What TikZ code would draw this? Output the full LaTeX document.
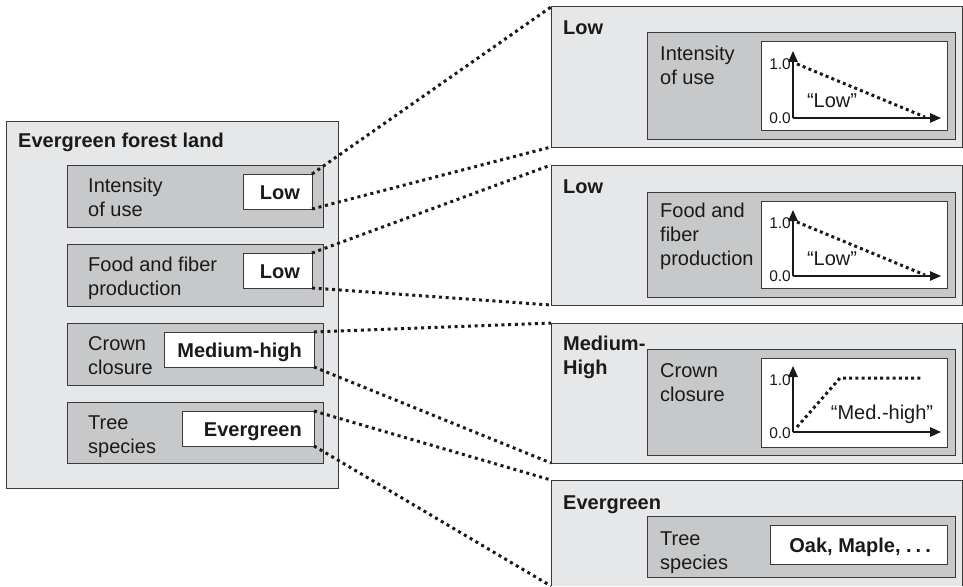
\documentclass[tikz,border=0pt]{standalone}
\usepackage{fontspec}
\setmainfont{Liberation Sans}
\usetikzlibrary{arrows.meta,calc}

\definecolor{outerfill}{HTML}{E6E7E8}
\definecolor{innerfill}{HTML}{C7C8CA}
\definecolor{edgecol}{HTML}{3A3A3A}
\definecolor{ink}{HTML}{1A1A1A}

\newcommand\stackedlbl[1]{\begin{tabular}[t]{@{}l@{}}#1\end{tabular}}

\tikzset{
  box/.style={draw=edgecol, line width=1pt, inner sep=0pt, outer sep=0pt, rectangle},
  outerbox/.style={box, fill=outerfill},
  innerbox/.style={box, fill=innerfill},
  valbox/.style={box, fill=white},
  lbl/.style={inner sep=0pt, anchor=base west, font=\fontsize{20}{24}\selectfont, text=ink},
  boldlbl/.style={lbl, font=\fontsize{20}{24}\selectfont\bfseries},
  conn/.style={draw=ink, line width=3pt, dash pattern=on 3pt off 3.7pt},
  axisline/.style={draw=ink, line width=1.3pt, -{Triangle[length=11pt,width=9.5pt]}},
  curveline/.style={draw=ink, line width=3pt, dash pattern=on 3pt off 3.2pt},
  ticklbl/.style={inner sep=0pt, anchor=base east, font=\fontsize{15.5}{17}\selectfont, text=ink},
}

\begin{document}
\begin{tikzpicture}[x=1pt,y=-1pt]
\useasboundingbox (0,0) rectangle (963,586);

% ---------- left side ----------
\node[outerbox, minimum width=332pt, minimum height=367pt] (land) at (172,304.5) {};
\node[boldlbl] (landt) at ($(land.north west)+(12,26)$) {Evergreen forest land};

\node[innerbox, minimum width=256pt, minimum height=62pt] (b1) at (195,196) {};
\node[innerbox, minimum width=256pt, minimum height=62pt] (b2) at (195,275) {};
\node[innerbox, minimum width=256pt, minimum height=62pt] (b3) at (195,354) {};
\node[innerbox, minimum width=256pt, minimum height=61pt] (b4) at (195,432.5) {};

\node[lbl] (b1t) at ($(b1.north west)+(21,27)$) {\stackedlbl{Intensity\\of use}};
\node[lbl] (b2t) at ($(b2.north west)+(21,27)$) {\stackedlbl{Food and fiber\\production}};
\node[lbl] (b3t) at ($(b3.north west)+(21,27)$) {\stackedlbl{Crown\\closure}};
\node[lbl] (b4t) at ($(b4.north west)+(21,27)$) {\stackedlbl{Tree\\species}};

\node[valbox, minimum width=69pt, minimum height=35pt] (w1) at (277.5,191.5) {};
\node[valbox, minimum width=69pt, minimum height=35pt] (w2) at (277.5,270.5) {};
\node[valbox, minimum width=150pt, minimum height=35pt] (w3) at (239,349.5) {};
\node[valbox, minimum width=132pt, minimum height=35pt] (w4) at (248,428.5) {};

\node[boldlbl, anchor=base east] (w1t) at ($(w1.east)+(-12,7.5)$) {Low};
\node[boldlbl, anchor=base east] (w2t) at ($(w2.east)+(-12,7.5)$) {Low};
\node[boldlbl, anchor=base east] (w3t) at ($(w3.east)+(-12,7.5)$) {Medium-high};
\node[boldlbl, anchor=base east] (w4t) at ($(w4.east)+(-12,7.5)$) {Evergreen};

% ---------- right side ----------
\node[outerbox, minimum width=411pt, minimum height=140pt] (r1) at (756.5,77) {};
\node[outerbox, minimum width=411pt, minimum height=140pt] (r2) at (756.5,235) {};
\node[outerbox, minimum width=411pt, minimum height=140pt] (r3) at (756.5,393) {};
\node[inner sep=0pt, outer sep=0pt, fill=outerfill, minimum width=411pt, minimum height=106pt] (r4) at (756.5,533) {};
\draw[draw=edgecol, line width=1pt] (r4.south west) -- (r4.north west) -- (r4.north east) -- (r4.south east);

\node[boldlbl] (r1t) at ($(r1.north west)+(12,28)$) {Low};
\node[boldlbl] (r2t) at ($(r2.north west)+(12,28)$) {Low};
\node[boldlbl] (r3t) at ($(r3.north west)+(12,27)$) {\stackedlbl{Medium-\\High}};
\node[boldlbl] (r4t) at ($(r4.north west)+(12,29)$) {Evergreen};

\node[innerbox, minimum width=308pt, minimum height=106pt] (g1) at (801,86) {};
\node[innerbox, minimum width=308pt, minimum height=105pt] (g2) at (801,244.5) {};
\node[innerbox, minimum width=308pt, minimum height=106pt] (g3) at (801,402) {};
\node[innerbox, minimum width=308pt, minimum height=61pt] (g4) at (801,546.5) {};

\node[lbl] (g1t) at ($(g1.north west)+(13,27)$) {\stackedlbl{Intensity\\of use}};
\node[lbl] (g2t) at ($(g2.north west)+(13,25)$) {\stackedlbl{Food and\\fiber\\production}};
\node[lbl] (g3t) at ($(g3.north west)+(13,28)$) {\stackedlbl{Crown\\closure}};
\node[lbl] (g4t) at ($(g4.north west)+(13,29)$) {\stackedlbl{Tree\\species}};

\node[valbox, minimum width=186pt, minimum height=88pt] (p1) at (854,86) {};
\node[valbox, minimum width=186pt, minimum height=87pt] (p2) at (854,244.5) {};
\node[valbox, minimum width=186pt, minimum height=89pt] (p3) at (854,402.5) {};
\node[valbox, minimum width=177pt, minimum height=39pt] (v4) at (858.5,544.5) {};
\node[boldlbl, anchor=base east] (v4t) at ($(v4.east)+(-16,7.5)$) {Oak, Maple, .\hspace{4pt}.\hspace{4pt}.};

% plot 1
\coordinate (o1) at ($(p1.north west)+(32,76)$);
\draw[axisline] (o1) -- ++(0,-67);
\draw[axisline] (o1) -- ++(148,0);
\draw[curveline] ($(o1)+(4,-54)$) -- ($(o1)+(132,-1)$);
\node[ticklbl] (o1a) at ($(o1)+(-2,-48)$) {1.0};
\node[ticklbl] (o1b) at ($(o1)+(-2,5)$) {0.0};
\node[lbl, anchor=base] (o1c) at ($(o1)+(39,-11)$) {“Low”};

% plot 2
\coordinate (o2) at ($(p2.north west)+(32,75)$);
\draw[axisline] (o2) -- ++(0,-66);
\draw[axisline] (o2) -- ++(148,0);
\draw[curveline] ($(o2)+(4,-54)$) -- ($(o2)+(132,-1)$);
\node[ticklbl] (o2a) at ($(o2)+(-2,-48)$) {1.0};
\node[ticklbl] (o2b) at ($(o2)+(-2,5)$) {0.0};
\node[lbl, anchor=base] (o2c) at ($(o2)+(39,-11)$) {“Low”};

% plot 3
\coordinate (o3) at ($(p3.north west)+(32,74)$);
\draw[axisline] (o3) -- ++(0,-66);
\draw[axisline] (o3) -- ++(148,0);
\draw[curveline] ($(o3)+(4,-5)$) -- ($(o3)+(47,-54)$) -- ($(o3)+(129,-54)$);
\node[ticklbl] (o3a) at ($(o3)+(-2,-47)$) {1.0};
\node[ticklbl] (o3b) at ($(o3)+(-2,6)$) {0.0};
\node[lbl, anchor=base] (o3c) at ($(o3)+(89,-13)$) {“Med.-high”};

% ---------- connectors ----------
\draw[conn] (w1.north east) -- (r1.north west);
\draw[conn] (w1.south east) -- (r1.south west);
\draw[conn] (w2.north east) -- (r2.north west);
\draw[conn] (w2.south east) -- (r2.south west);
\draw[conn] (w3.north east) -- (r3.north west);
\draw[conn] (w3.south east) -- (r3.south west);
\draw[conn] (w4.north east) -- (r4.north west);
\draw[conn] (w4.south east) -- (r4.south west);
\end{tikzpicture}
\end{document}
